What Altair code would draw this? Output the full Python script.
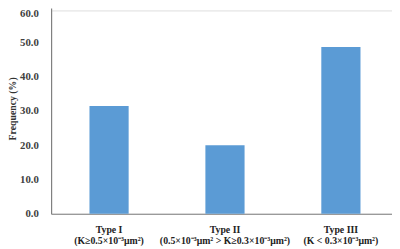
import altair as alt
import pandas as pd

categories = [
    "Type I\n(K\u22650.5\u00d710\u207b\u00b3\u03bcm\u00b2)",
    "Type II\n(0.5\u00d710\u207b\u00b3\u03bcm\u00b2 > K\u22650.3\u00d710\u207b\u00b3\u03bcm\u00b2)",
    "Type III\n(K < 0.3\u00d710\u207b\u00b3\u03bcm\u00b2)",
]
values = [31.4, 20.0, 48.6]
y_ticks = [0, 10, 20, 30, 40, 50, 60]

df = pd.DataFrame({"cat": categories, "freq": values})

font = "Liberation Serif"

chart = (
    alt.Chart(df)
    .mark_bar(color="#5B9BD5")
    .encode(
        x=alt.X(
            "cat:N",
            sort=categories,
            title=None,
            scale=alt.Scale(range=[0, 355], paddingInner=0.662, paddingOuter=0.331),
            axis=alt.Axis(
                labelAngle=0,
                labelExpr="split(datum.label, '\\n')",
                labelFont=font,
                labelFontWeight="bold",
                labelFontSize=10,
                labelColor="#222222",
                labelLineHeight=11,
                labelPadding=11,
                ticks=False,
                tickSize=0,
                domainColor="#808080",
                domainWidth=1.2,
                labelLimit=400,
            ),
        ),
        y=alt.Y(
            "freq:Q",
            title="Frequency (%)",
            scale=alt.Scale(domain=[0, 60], range=[207.5, -2.5], nice=False),
            axis=alt.Axis(
                values=y_ticks,
                format=".1f",
                grid=False,
                ticks=False,
                tickSize=0,
                labelFont=font,
                labelFontWeight="bold",
                labelFontSize=11,
                labelColor="#404040",
                labelPadding=13,
                labelOffset={"condition": {"test": "datum.value == 60", "value": 6}, "value": 0},
                domainColor="#808080",
                domainWidth=1.2,
                titleFont=font,
                titleFontWeight="bold",
                titleFontSize=10,
                titleColor="#333333",
                titleX=-39,
                titleY=100,
                titleBaseline="middle",
                titleAngle=-90,
            ),
        ),
    )
    .properties(
        width=348,
        height=207.5,
        autosize=alt.AutoSizeParams(type="none"),
        padding={"left": 44, "top": 0, "right": 0, "bottom": 33.5},
    )
    .configure_view(stroke=None)
    .configure(background="white")
)

chart.save("out.html", embed_options={"renderer": "svg", "actions": False})
